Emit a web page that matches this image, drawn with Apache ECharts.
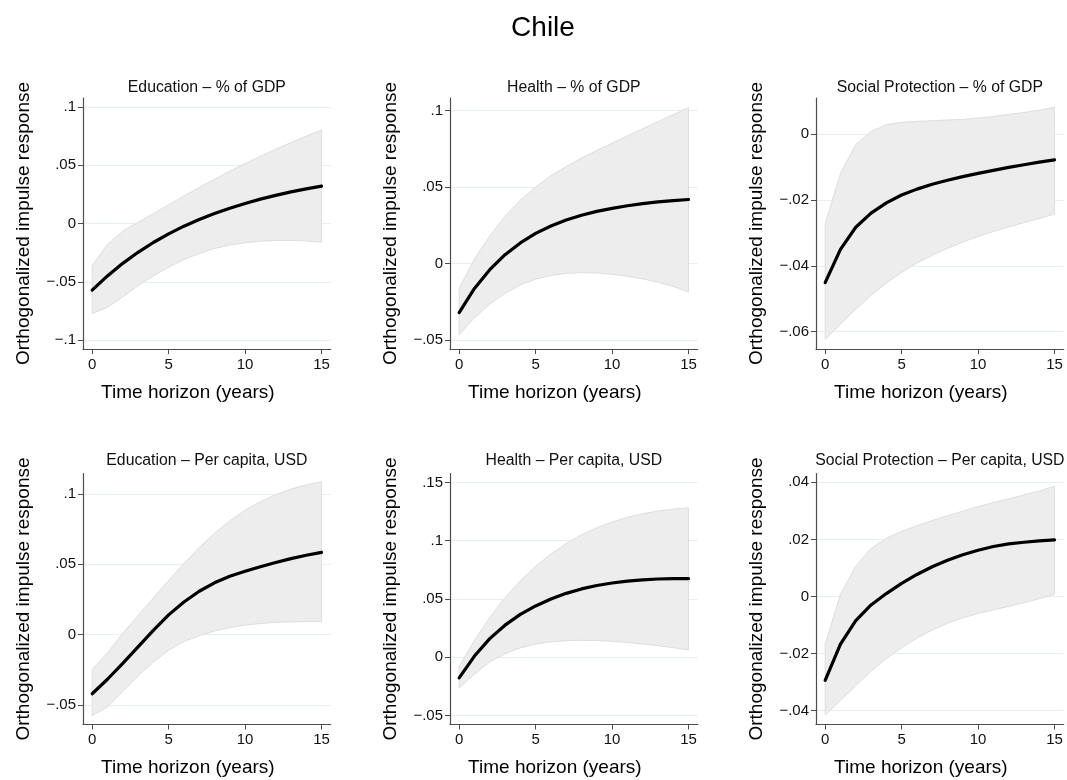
<!DOCTYPE html>
<html>
<head>
<meta charset="utf-8">
<script src="https://cdn.jsdelivr.net/npm/echarts@6/dist/echarts.min.js"></script>
<style>
html,body{margin:0;padding:0;background:#fff;}
#chart{width:1067px;height:780px;}
</style>
</head>
<body>
<div id="chart"></div>
<script>
// ---------- data ----------
const years = [0, 1, 2, 3, 4, 5, 6, 7, 8, 9, 10, 11, 12, 13, 14, 15];
const xTicks = [0, 5, 10, 15];

const mainTitle = 'Chile';
const panelTitles = [
  'Education \u2013 % of GDP',
  'Health \u2013 % of GDP',
  'Social Protection \u2013 % of GDP',
  'Education \u2013 Per capita, USD',
  'Health \u2013 Per capita, USD',
  'Social Protection \u2013 Per capita, USD'
];
const yAxisTitle = 'Orthogonalized impulse response';
const xAxisTitle = 'Time horizon (years)';

// Education - % of GDP
const eduGdpIrf = [-0.0572, -0.0450, -0.0342, -0.0247, -0.0163, -0.0089, -0.0023, 0.0035, 0.0086, 0.0131, 0.0172, 0.0209, 0.0241, 0.0271, 0.0297, 0.0321];
const eduGdpHi  = [-0.0362, -0.0180, -0.0065, 0.0010, 0.0085, 0.0160, 0.0235, 0.0310, 0.0380, 0.0450, 0.0515, 0.0577, 0.0637, 0.0695, 0.0750, 0.0802];
const eduGdpLo  = [-0.0773, -0.0720, -0.0630, -0.0535, -0.0450, -0.0375, -0.0310, -0.0258, -0.0215, -0.0185, -0.0165, -0.0152, -0.0146, -0.0146, -0.0150, -0.0160];
const eduGdpTicks = [-0.1, -0.05, 0, 0.05, 0.1];

// Health - % of GDP
const hltGdpIrf = [-0.0321, -0.0163, -0.0040, 0.0058, 0.0135, 0.0197, 0.0246, 0.0285, 0.0316, 0.0341, 0.0361, 0.0378, 0.0392, 0.0403, 0.0412, 0.0419];
const hltGdpHi  = [-0.0162, 0.0030, 0.0180, 0.0310, 0.0415, 0.0500, 0.0575, 0.0635, 0.0690, 0.0740, 0.0788, 0.0835, 0.0882, 0.0928, 0.0974, 0.1020];
const hltGdpLo  = [-0.0465, -0.0355, -0.0265, -0.0195, -0.0140, -0.0102, -0.0078, -0.0064, -0.0060, -0.0062, -0.0070, -0.0083, -0.0100, -0.0122, -0.0150, -0.0185];
const hltGdpTicks = [-0.05, 0, 0.05, 0.1];

// Social Protection - % of GDP
const spGdpIrf = [-0.0451, -0.0350, -0.0283, -0.0240, -0.0209, -0.0185, -0.0167, -0.0152, -0.0140, -0.0129, -0.0119, -0.0110, -0.0101, -0.0093, -0.0085, -0.0078];
const spGdpHi  = [-0.0273, -0.0119, -0.0032, 0.0008, 0.0029, 0.0036, 0.0039, 0.0041, 0.0043, 0.0045, 0.0049, 0.0054, 0.0060, 0.0066, 0.0073, 0.0082];
const spGdpLo  = [-0.0624, -0.0578, -0.0532, -0.0490, -0.0453, -0.0420, -0.0392, -0.0368, -0.0347, -0.0328, -0.0311, -0.0296, -0.0282, -0.0269, -0.0256, -0.0243];
const spGdpTicks = [-0.06, -0.04, -0.02, 0];

// Education - Per capita, USD
const eduPcIrf = [-0.0421, -0.0318, -0.0205, -0.0088, 0.0030, 0.0140, 0.0232, 0.0308, 0.0368, 0.0415, 0.0450, 0.0483, 0.0513, 0.0540, 0.0564, 0.0585];
const eduPcHi  = [-0.0248, -0.0130, 0.0010, 0.0135, 0.0260, 0.0385, 0.0505, 0.0620, 0.0720, 0.0810, 0.0885, 0.0945, 0.0995, 0.1035, 0.1065, 0.1088];
const eduPcLo  = [-0.0576, -0.0515, -0.0405, -0.0295, -0.0195, -0.0112, -0.0050, -0.0008, 0.0025, 0.0050, 0.0067, 0.0079, 0.0086, 0.0090, 0.0092, 0.0092];
const eduPcTicks = [-0.05, 0, 0.05, 0.1];

// Health - Per capita, USD
const hltPcIrf = [-0.0177, 0.0010, 0.0160, 0.0275, 0.0368, 0.0440, 0.0500, 0.0548, 0.0586, 0.0615, 0.0637, 0.0653, 0.0664, 0.0671, 0.0674, 0.0675];
const hltPcHi  = [-0.0080, 0.0145, 0.0340, 0.0510, 0.0655, 0.0780, 0.0885, 0.0975, 0.1050, 0.1110, 0.1160, 0.1200, 0.1230, 0.1255, 0.1270, 0.1282];
const hltPcLo  = [-0.0263, -0.0145, -0.0040, 0.0030, 0.0080, 0.0112, 0.0132, 0.0142, 0.0145, 0.0143, 0.0137, 0.0127, 0.0114, 0.0099, 0.0082, 0.0063];
const hltPcTicks = [-0.05, 0, 0.05, 0.1, 0.15];

// Social Protection - Per capita, USD
const spPcIrf = [-0.0294, -0.0167, -0.0085, -0.0030, 0.0010, 0.0046, 0.0077, 0.0104, 0.0127, 0.0146, 0.0162, 0.0175, 0.0184, 0.0190, 0.0195, 0.0198];
const spPcHi  = [-0.0167, 0.0007, 0.0106, 0.0168, 0.0204, 0.0228, 0.0248, 0.0266, 0.0283, 0.0299, 0.0315, 0.0329, 0.0342, 0.0356, 0.0370, 0.0386];
const spPcLo  = [-0.0416, -0.0365, -0.0313, -0.0262, -0.0218, -0.0180, -0.0146, -0.0118, -0.0094, -0.0075, -0.0060, -0.0047, -0.0035, -0.0022, -0.0008, 0.0007];
const spPcTicks = [-0.04, -0.02, 0, 0.02, 0.04];

// ---------- layout (positions / axis extents) ----------
const FONT = "'Liberation Sans', Arial, Helvetica, sans-serif";
const colLeft = [83, 450, 816];
const rowTop = [98, 473.5];
const plotW = 247.7, plotH = 251;
const xExtent = [-0.6, 15.6];
const yExtents = [
  [-0.1077, 0.1077], [-0.0559, 0.1083], [-0.0653, 0.0110],
  [-0.0640, 0.1146], [-0.0577, 0.1576], [-0.0449, 0.0431]
];

const panels = [
  { irf: eduGdpIrf, hi: eduGdpHi, lo: eduGdpLo, ticks: eduGdpTicks },
  { irf: hltGdpIrf, hi: hltGdpHi, lo: hltGdpLo, ticks: hltGdpTicks },
  { irf: spGdpIrf,  hi: spGdpHi,  lo: spGdpLo,  ticks: spGdpTicks },
  { irf: eduPcIrf,  hi: eduPcHi,  lo: eduPcLo,  ticks: eduPcTicks },
  { irf: hltPcIrf,  hi: hltPcHi,  lo: hltPcLo,  ticks: hltPcTicks },
  { irf: spPcIrf,   hi: spPcHi,   lo: spPcLo,   ticks: spPcTicks }
];

function fmtY(v) {
  if (Math.abs(v) < 1e-9) return '0';
  let s = String(+Math.abs(v).toFixed(3)).replace(/^0\./, '.');
  return (v < 0 ? '\u2212' : '') + s;
}

const AXIS_COLOR = '#4d4d4d';
const grids = [], xAxes = [], yAxes = [], series = [], titles = [];

titles.push({
  text: mainTitle, left: 543, top: 14, textAlign: 'center', padding: 0,
  textStyle: { fontFamily: FONT, fontSize: 28, fontWeight: 'normal', color: '#000' }
});

panels.forEach((p, i) => {
  const r = Math.floor(i / 3), c = i % 3;
  const left = colLeft[c], top = rowTop[r];
  grids.push({ left: left, top: top, width: plotW, height: plotH, containLabel: false });
  titles.push({
    text: panelTitles[i], padding: 0,
    left: left + plotW / 2, top: top + (r === 0 ? -18 : -21),
    textAlign: 'center',
    textStyle: { fontFamily: FONT, fontSize: 15.8, fontWeight: 'normal', color: '#111' }
  });
  xAxes.push({
    gridIndex: i, type: 'value', min: xExtent[0], max: xExtent[1],
    name: xAxisTitle, nameLocation: 'middle', nameGap: 34,
    nameTextStyle: { fontFamily: FONT, fontSize: 19, color: '#000', padding: [0, 38, 0, 0] },
    axisLine: { onZero: false, lineStyle: { color: AXIS_COLOR, width: 1.2 } },
    axisTick: { show: true, length: 5, customValues: xTicks, lineStyle: { color: AXIS_COLOR, width: 1 } },
    axisLabel: { customValues: xTicks, margin: 8, fontFamily: FONT, fontSize: 15, color: '#111' },
    splitLine: { show: false }
  });
  yAxes.push({
    gridIndex: i, type: 'value', min: yExtents[i][0], max: yExtents[i][1],
    name: yAxisTitle, nameLocation: 'middle', nameGap: 50, nameRotate: 90,
    nameTextStyle: { fontFamily: FONT, fontSize: 19, color: '#000' },
    axisLine: { show: true, onZero: false, lineStyle: { color: AXIS_COLOR, width: 1.2 } },
    axisTick: { show: true, length: 5, customValues: p.ticks, lineStyle: { color: AXIS_COLOR, width: 1 } },
    axisLabel: { customValues: p.ticks, margin: 7, fontFamily: FONT, fontSize: 15, color: '#111', formatter: fmtY },
    splitLine: { show: true, lineStyle: { color: '#e6eff1', width: 1 } }
  });
  series.push({
    type: 'custom', xAxisIndex: i, yAxisIndex: i, z: 1,
    data: [[years[0], p.irf[0]]],
    renderItem: function (params, api) {
      const pts = [];
      for (let j = 0; j < years.length; j++) pts.push(api.coord([years[j], p.hi[j]]));
      for (let j = years.length - 1; j >= 0; j--) pts.push(api.coord([years[j], p.lo[j]]));
      return { type: 'polygon', shape: { points: pts },
        style: { fill: '#ededed', stroke: '#dedede', lineWidth: 1 } };
    },
    silent: true
  });
  series.push({
    type: 'line', xAxisIndex: i, yAxisIndex: i, z: 3,
    data: years.map((x, j) => [x, p.irf[j]]),
    symbol: 'none', smooth: false,
    lineStyle: { color: '#000', width: 3.2, cap: 'round', join: 'round' },
    silent: true
  });
});

const chart = echarts.init(document.getElementById('chart'), null, { renderer: 'canvas' });
chart.setOption({
  backgroundColor: '#fff',
  animation: false,
  title: titles,
  grid: grids,
  xAxis: xAxes,
  yAxis: yAxes,
  series: series
});
</script>
</body>
</html>
